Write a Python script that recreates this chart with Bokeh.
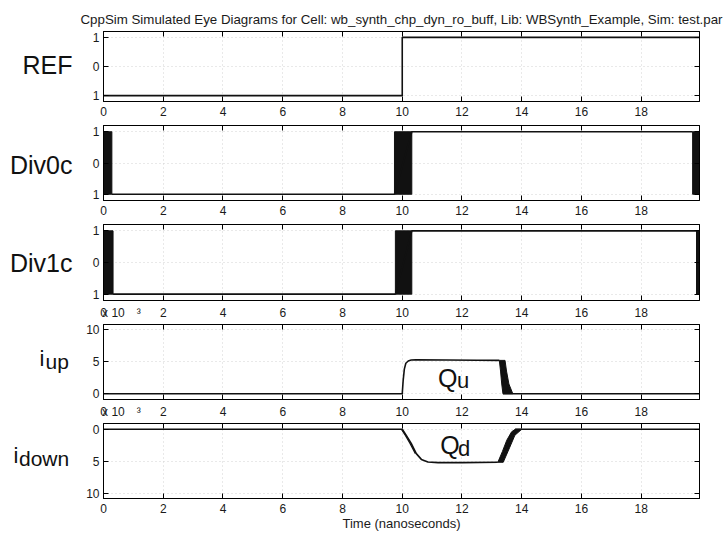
from bokeh.plotting import figure
from bokeh.models import Range1d, LinearAxis, FixedTicker, Label
from bokeh.layouts import column, row
from bokeh.core.properties import value
from bokeh.embed import file_html
from bokeh.resources import INLINE

FONT = "Liberation Sans"

# ---------------- data ----------------
x_ticks = [0, 2, 4, 6, 8, 10, 12, 14, 16, 18]
exp_tick = 0.6
exp_text = "x 10\u2003\u00b3"
digital_ticks = [-1, 0, 1]
digital_tick_labels = {-1: "1", 0: "0", 1: "1"}
iup_ticks = [0, 5, 10]
iup_tick_labels = {0: "0", 5: "5", 10: "10"}
idn_ticks = [-10, -5, 0]
idn_tick_labels = {-10: "10", -5: "5", 0: "0"}

panel_names = ["REF", "Div0c", "Div1c"]
current_main = ["i", "i"]
current_sub = ["up", "down"]

# REF (single trace)
ref_t = [0, 10.0, 10.0, 19.95]
ref_v = [-1, -1, 1, 1]

# Div0c: jitter bands (left/right edges) and settled levels
div0_band_left = [0.0, 9.74, 19.72]
div0_band_right = [0.28, 10.32, 19.95]
div0_level_t = [0.28, 9.74, 10.32, 19.72]
div0_level_v = [-1, -1, 1, 1]

# Div1c
div1_band_left = [0.0, 9.77, 19.85]
div1_band_right = [0.32, 10.32, 19.95]
div1_level_t = [0.32, 9.77, 10.32, 19.85]
div1_level_v = [-1, -1, 1, 1]

# i_up (units of 1e-3)
up_t = [0, 10.0, 10.03, 10.07, 10.12, 10.2, 10.3, 10.45, 11.5, 12.5, 13.25]
up_v = [0, 0, 2.0, 3.8, 4.7, 5.05, 5.2, 5.25, 5.22, 5.18, 5.15]
up_fall_early_t = [13.25, 13.29, 13.33, 13.37]
up_fall_early_v = [5.15, 3.5, 1.5, 0]
up_fall_late_t = [13.44, 13.49, 13.57, 13.7]
up_fall_late_v = [5.15, 3.5, 1.5, 0]
up_tail_t = [13.37, 19.95]
up_tail_v = [0, 0]

# i_down (units of 1e-3)
dn_t = [0, 10.0, 10.13, 10.3, 10.47, 10.64, 10.86, 11.2, 12.0, 13.2]
dn_v = [0, 0, -0.94, -2.2, -3.8, -4.7, -5.1, -5.2, -5.2, -5.15]
dn_lead2_t = [9.97, 10.1, 10.26, 10.44]
dn_lead2_v = [0, -0.94, -2.2, -3.8]
dn_rise_early_t = [13.2, 13.35, 13.5, 13.66, 13.78]
dn_rise_early_v = [-5.15, -3.5, -1.7, -0.4, 0]
dn_rise_late_t = [13.38, 13.6, 13.77, 14.0]
dn_rise_late_v = [-5.15, -2.8, -0.94, 0]
dn_tail_t = [13.78, 19.95]
dn_tail_v = [0, 0]

TITLE = ("CppSim Simulated Eye Diagrams for Cell: wb_synth_chp_dyn_ro_buff, "
         "Lib: WBSynth_Example, Sim: test.par")

# ---------------- layout helpers ----------------
xr = Range1d(0, 19.95)
LINE = "#111111"
TXT = "#1a1a1a"
LW = 1.6
LEFT_W = 80          # width of the label strip on the left
MAIN_LEFT = 23       # left border of each panel (tick labels)


def tick_only_axis(ax, ticks):
    ax.ticker = FixedTicker(ticks=ticks)
    ax.major_label_overrides = {t: "" for t in ticks}
    ax.major_label_text_font_size = "1px"
    ax.major_label_standoff = 0
    ax.major_tick_in = 5
    ax.major_tick_out = 0
    ax.minor_tick_line_color = None
    ax.axis_line_color = "black"
    ax.major_tick_line_color = "black"


def make_fig(frame_h, yr, top, bottom, yticks, yover, title=None,
             with_exp=False, xlabel=None):
    kw = dict(frame_width=596, frame_height=frame_h, x_range=xr,
              y_range=Range1d(*yr), output_backend="svg",
              toolbar_location=None, min_border_left=MAIN_LEFT,
              min_border_right=27, min_border_top=top,
              min_border_bottom=bottom)
    if title is not None:
        kw["title"] = title
    p = figure(**kw)
    p.background_fill_color = "white"
    p.border_fill_color = "white"
    p.outline_line_color = "black"
    p.outline_line_width = 1
    # bottom: inner axis draws the inward ticks, outer one the labels
    tick_only_axis(p.xaxis[0], x_ticks)
    lab_ticks = list(x_ticks) + ([exp_tick] if with_exp else [])
    lab_over = {exp_tick: exp_text} if with_exp else {}
    lab_ax = LinearAxis(ticker=FixedTicker(ticks=lab_ticks),
                        major_label_overrides=lab_over,
                        major_label_text_font=FONT,
                        major_label_text_font_size="12px",
                        major_label_text_color=TXT,
                        major_label_standoff=5,
                        major_tick_in=0, major_tick_out=0,
                        major_tick_line_color=None,
                        minor_tick_line_color=None,
                        axis_line_color=None)
    if xlabel:
        lab_ax.axis_label = xlabel
        lab_ax.axis_label_text_font = FONT
        lab_ax.axis_label_text_font_size = "13px"
        lab_ax.axis_label_text_font_style = "normal"
        lab_ax.axis_label_text_color = TXT
        lab_ax.axis_label_standoff = 0
    p.add_layout(lab_ax, "below")
    # left axis
    ya = p.yaxis[0]
    ya.ticker = FixedTicker(ticks=yticks)
    ya.major_label_overrides = yover
    ya.major_label_standoff = 4
    ya.major_tick_in = 5
    ya.major_tick_out = 0
    ya.minor_tick_line_color = None
    ya.axis_line_color = "black"
    ya.major_tick_line_color = "black"
    ya.major_label_text_font = FONT
    ya.major_label_text_font_size = "12px"
    ya.major_label_text_color = TXT
    # box ticks on top and right
    top_ax = LinearAxis()
    tick_only_axis(top_ax, x_ticks)
    right_ax = LinearAxis()
    tick_only_axis(right_ax, yticks)
    p.add_layout(top_ax, "above")
    p.add_layout(right_ax, "right")
    p.xgrid.grid_line_color = "#d2d2d2"
    p.xgrid.grid_line_dash = "1 3"
    p.ygrid.grid_line_color = "#d2d2d2"
    p.ygrid.grid_line_dash = "1 3"
    return p


def in_label(p, x, y, text, size):
    p.add_layout(Label(x=x, y=y, text=text, text_font=FONT,
                       text_font_size=size, text_align="left",
                       text_baseline="middle", text_color=LINE))


# ---------------- REF ----------------
p1 = make_fig(70, (-1.2, 1.2), 31, 23, digital_ticks, digital_tick_labels,
              title=TITLE)
p1.title.text_font = FONT
p1.title.text_font_size = "13.3px"
p1.title.text_font_style = "normal"
p1.title.text_color = TXT
p1.title.align = "center"
p1.title.offset = 3
p1.title.standoff = 9
p1.line(ref_t, ref_v, line_color=LINE, line_width=LW)

# ---------------- Div0c ----------------
p2 = make_fig(75, (-1.2, 1.2), 1, 23, digital_ticks, digital_tick_labels)
p2.quad(left=div0_band_left, right=div0_band_right, bottom=-1, top=1,
        fill_color=LINE, line_color=LINE)
p2.line(div0_level_t, div0_level_v, line_color=LINE, line_width=LW)

# ---------------- Div1c ----------------
p3 = make_fig(76, (-1.2, 1.2), 1, 23, digital_ticks, digital_tick_labels,
              with_exp=True)
p3.quad(left=div1_band_left, right=div1_band_right, bottom=-1, top=1,
        fill_color=LINE, line_color=LINE)
p3.line(div1_level_t, div1_level_v, line_color=LINE, line_width=LW)

# ---------------- i_up ----------------
p4 = make_fig(75, (-0.9, 10.7), 1, 23, iup_ticks, iup_tick_labels,
              with_exp=True)
p4.patch(up_fall_early_t + up_fall_late_t[::-1],
         up_fall_early_v + up_fall_late_v[::-1],
         fill_color=LINE, line_color=LINE, line_width=1)
p4.line(up_t, up_v, line_color=LINE, line_width=LW)
p4.line(up_tail_t, up_tail_v, line_color=LINE, line_width=LW)
in_label(p4, 11.2, 2.5, "Q", "25px")
in_label(p4, 11.83, 2.04, "u", "22px")

# ---------------- i_down ----------------
p5 = make_fig(75, (-10.8, 0.9), 1, 36, idn_ticks, idn_tick_labels,
              xlabel="Time (nanoseconds)")
p5.patch(dn_rise_early_t + dn_rise_late_t[::-1],
         dn_rise_early_v + dn_rise_late_v[::-1],
         fill_color=LINE, line_color=LINE, line_width=1)
p5.line(dn_t, dn_v, line_color=LINE, line_width=LW)
p5.line(dn_lead2_t, dn_lead2_v, line_color=LINE, line_width=1.2)
p5.line(dn_tail_t, dn_tail_v, line_color=LINE, line_width=LW)
in_label(p5, 11.27, -2.38, "Q", "25px")
in_label(p5, 11.87, -3.0, "d", "22px")

# ---------------- signal-name strip on the left ----------------
lab = figure(width=LEFT_W, height=534, x_range=Range1d(0, LEFT_W),
             y_range=Range1d(534, 0), output_backend="svg",
             toolbar_location=None, x_axis_type=None, y_axis_type=None,
             min_border=0)
lab.outline_line_color = None
lab.background_fill_color = "white"
lab.border_fill_color = "white"
lab.text(x=[72, 72, 72], y=[64, 164, 262], text=panel_names,
         text_font=value(FONT), text_font_size="25px", text_align="right",
         text_baseline="middle", text_color=LINE)
lab.text(x=[39, 13], y=[358, 455], text=current_main,
         text_font=value(FONT), text_font_size="22px", text_align="left",
         text_baseline="middle", text_color=LINE)
lab.text(x=[45, 18.5], y=[361, 458], text=current_sub,
         text_font=value(FONT), text_font_size="21px", text_align="left",
         text_baseline="middle", text_color=LINE)

layout = row(lab, column(p1, p2, p3, p4, p5, spacing=0), spacing=0)
open("out.html", "w").write(file_html(layout, INLINE))
